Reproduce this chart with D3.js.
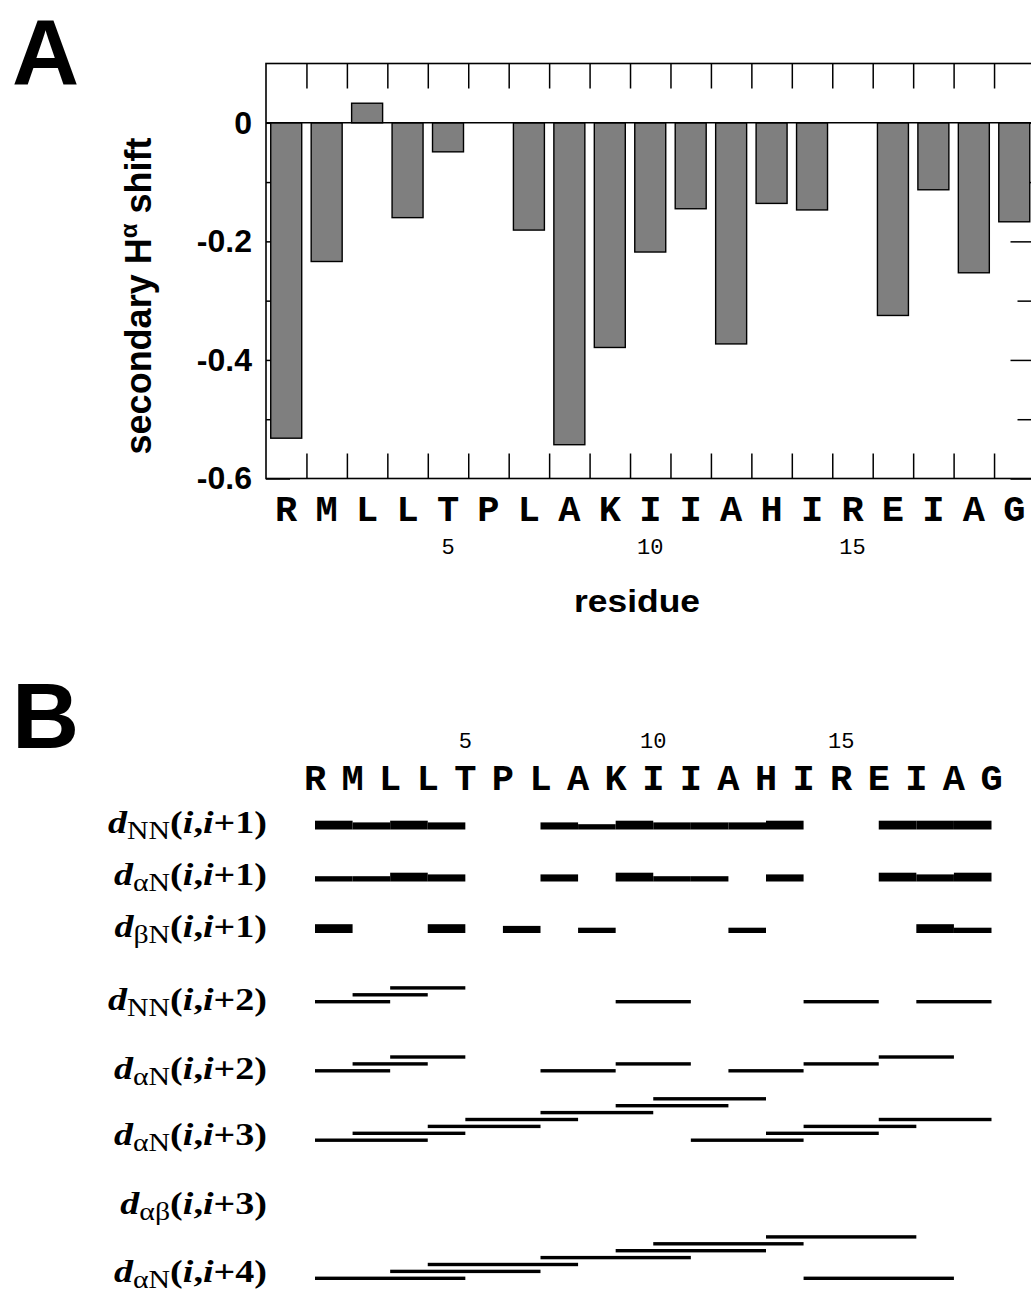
<!DOCTYPE html>
<html>
<head>
<meta charset="utf-8">
<script src="https://cdn.jsdelivr.net/npm/d3@7"></script>
<style>
  body { margin: 0; background: #fff; }
  svg { display: block; }
</style>
</head>
<body>
<div id="chart"></div>
<script>
// peptide sequence and numbering
var residues = ['R','M','L','L','T','P','L','A','K','I','I','A','H','I','R','E','I','A','G'];
var numberLabels = [5, 10, 15];

// secondary H-alpha shift (ppm), null = no bar
var haShift = [-0.532, -0.234, 0.033, -0.160, -0.049, null, -0.181, -0.543, -0.379, -0.218,
               -0.145, -0.373, -0.136, -0.147, null, -0.325, -0.113, -0.253, -0.167];
var yMajor = [0, -0.2, -0.4, -0.6];
var yMinor = [-0.1, -0.3, -0.5];

// sequential NOEs: [residue i, intensity] for i -> i+1
var dNN1 = [[1,'s'],[2,'m'],[3,'s'],[4,'m'],[7,'m'],[8,'w'],[9,'s'],[10,'m'],[11,'m'],[12,'m'],[13,'s'],[16,'s'],[17,'s'],[18,'s']];
var daN1 = [[1,'w'],[2,'w'],[3,'s'],[4,'m'],[7,'m'],[9,'s'],[10,'w'],[11,'w'],[13,'m'],[16,'s'],[17,'m'],[18,'s']];
var dbN1 = [[1,'s'],[4,'s'],[6,'m'],[8,'w'],[12,'w'],[17,'s'],[18,'w']];

// medium range NOEs: [i, j]
var dNN2 = [[1,3],[2,4],[3,5],[9,11],[14,16],[17,19]];
var daN2 = [[1,3],[2,4],[3,5],[7,9],[9,11],[12,14],[14,16],[16,18]];
var daN3 = [[1,4],[2,5],[4,7],[5,8],[7,10],[9,12],[10,13],[11,14],[13,16],[14,17],[16,19]];
var dab3 = [];
var daN4 = [[1,5],[3,7],[4,8],[7,11],[9,13],[10,14],[13,17],[14,18]];

var rowSubs = ['NN', 'αN', 'βN', 'NN', 'αN', 'αN', 'αβ', 'αN'];
var rowSteps = [1, 1, 1, 2, 2, 3, 3, 4];

var W = 1031, H = 1294;
var sans = '"Liberation Sans", Arial, sans-serif';
var mono = '"Liberation Mono", "Courier New", monospace';
var serif = '"Liberation Serif", "Times New Roman", serif';

var svg = d3.select('#chart').append('svg')
  .attr('width', W).attr('height', H)
  .attr('viewBox', `0 0 ${W} ${H}`);

// ---------- panel A ----------
var plot = { left: 266, right: 1034.5, top: 63.5, bottom: 478.5 };
var idx = d3.range(1, residues.length + 1);

var x = d3.scaleBand().domain(idx).range([plot.left, plot.right]);
var xEdge = d3.scaleLinear().domain([0, residues.length]).range([plot.left, plot.right]);
var y = d3.scaleLinear().domain([-0.6, 0.1]).range([plot.bottom, plot.top]);

svg.append('text')
  .attr('x', 12).attr('y', 84)
  .style('font-family', sans).style('font-weight', 'bold').style('font-size', '93px')
  .text('A');

var gA = svg.append('g');

// band ticks top and bottom
gA.append('g')
  .attr('transform', `translate(0,${plot.top})`)
  .call(d3.axisBottom(xEdge).tickValues(d3.range(1, residues.length)).tickSize(25).tickFormat(''));
gA.append('g')
  .attr('transform', `translate(0,${plot.bottom})`)
  .call(d3.axisTop(xEdge).tickValues(d3.range(1, residues.length)).tickSize(25).tickFormat(''));

// y ticks both sides
gA.append('g').attr('transform', `translate(${plot.left},0)`)
  .call(d3.axisRight(y).tickValues(yMajor).tickSize(24).tickFormat(''));
gA.append('g').attr('transform', `translate(${plot.left},0)`)
  .call(d3.axisRight(y).tickValues(yMinor).tickSize(17).tickFormat(''));
gA.append('g').attr('transform', `translate(${plot.right},0)`)
  .call(d3.axisLeft(y).tickValues(yMajor).tickSize(24).tickFormat(''));
gA.append('g').attr('transform', `translate(${plot.right},0)`)
  .call(d3.axisLeft(y).tickValues(yMinor).tickSize(17).tickFormat(''));

// tick labels
gA.append('g').attr('transform', `translate(${plot.left},0)`)
  .call(d3.axisLeft(y).tickValues(yMajor).tickSize(0).tickPadding(14)
    .tickFormat(d => d === 0 ? '0' : d.toFixed(1).replace('\u2212', '-')))
  .call(g => g.selectAll('text')
    .style('font-family', sans).style('font-weight', 'bold').style('font-size', '32px')
    .attr('fill', '#000'));

gA.selectAll('.domain').remove();
gA.selectAll('.tick line').attr('stroke', '#000').attr('stroke-width', 1.5);

// bars
var barW = x.bandwidth() * 0.766;
gA.append('g').selectAll('rect')
  .data(haShift.map((v, i) => ({ i: i + 1, v: v })).filter(d => d.v !== null))
  .join('rect')
    .attr('x', d => x(d.i) + (x.bandwidth() - barW) / 2)
    .attr('width', barW)
    .attr('y', d => y(Math.max(0, d.v)))
    .attr('height', d => Math.abs(y(d.v) - y(0)))
    .attr('fill', '#7f7f7f')
    .attr('stroke', '#000')
    .attr('stroke-width', 1.4);

// zero line + frame
gA.append('line')
  .attr('x1', plot.left).attr('x2', plot.right)
  .attr('y1', y(0)).attr('y2', y(0))
  .attr('stroke', '#000').attr('stroke-width', 1.6);
gA.append('rect')
  .attr('x', plot.left).attr('y', plot.top)
  .attr('width', plot.right - plot.left).attr('height', plot.bottom - plot.top)
  .attr('fill', 'none').attr('stroke', '#000').attr('stroke-width', 1.6);

// residue letters and numbers
gA.append('g').selectAll('text')
  .data(residues)
  .join('text')
    .attr('x', (d, i) => x(i + 1) + x.bandwidth() / 2)
    .attr('y', 521)
    .attr('text-anchor', 'middle')
    .style('font-family', mono).style('font-weight', 'bold').style('font-size', '37px')
    .text(d => d);
gA.append('g').selectAll('text')
  .data(numberLabels)
  .join('text')
    .attr('x', d => x(d) + x.bandwidth() / 2)
    .attr('y', 554)
    .attr('text-anchor', 'middle')
    .style('font-family', mono).style('font-size', '22px')
    .text(d => d);

// axis titles
gA.append('text')
  .attr('x', 637).attr('y', 612)
  .attr('text-anchor', 'middle')
  .attr('textLength', 126).attr('lengthAdjust', 'spacingAndGlyphs')
  .style('font-family', sans).style('font-weight', 'bold').style('font-size', '32px')
  .text('residue');

var yTitle = gA.append('text')
  .attr('transform', 'translate(151,296) rotate(-90)')
  .attr('text-anchor', 'middle')
  .style('font-family', sans).style('font-weight', 'bold').style('font-size', '36px');
yTitle.append('tspan').text('secondary H');
yTitle.append('tspan').attr('dy', -14).style('font-size', '24px').text('α');
yTitle.append('tspan').attr('dy', 14).text(' shift');

// ---------- panel B ----------
svg.append('text')
  .attr('x', 12).attr('y', 748)
  .style('font-family', sans).style('font-weight', 'bold').style('font-size', '93px')
  .text('B');

var gB = svg.append('g');
var xB = d3.scalePoint().domain(idx).range([315, 991.5]);

gB.append('g').selectAll('text')
  .data(residues)
  .join('text')
    .attr('x', (d, i) => xB(i + 1))
    .attr('y', 790)
    .attr('text-anchor', 'middle')
    .style('font-family', mono).style('font-weight', 'bold').style('font-size', '37px')
    .text(d => d);
gB.append('g').selectAll('text')
  .data(numberLabels)
  .join('text')
    .attr('x', d => xB(d))
    .attr('y', 748)
    .attr('text-anchor', 'middle')
    .style('font-family', mono).style('font-size', '22px')
    .text(d => d);

// row geometry
var seqBottoms = [829.5, 881.5, 933];
var medBase = [1001.7, 1070.8, 1140.2, 1209.2, 1278.3];
var labelBase = [833, 885, 937, 1010, 1079, 1145, 1214, 1282];
var thick = d3.scaleOrdinal().domain(['w', 'm', 's']).range([5.3, 7.1, 8.8]);
var levelStep = 6.9;
var thinW = 3.4;

// sequential rows
[dNN1, daN1, dbN1].forEach((rows, r) => {
  gB.append('g').selectAll('rect')
    .data(rows)
    .join('rect')
      .attr('x', d => xB(d[0]))
      .attr('width', d => xB(d[0] + 1) - xB(d[0]))
      .attr('y', d => seqBottoms[r] - thick(d[1]))
      .attr('height', d => thick(d[1]))
      .attr('fill', '#000');
});

// medium range rows, stacked in a staircase (wraps after 7 levels)
function stackLevels(pairs) {
  var out = [], lvl = 0, prevEnd = -Infinity;
  pairs.forEach(p => {
    lvl = p[0] <= prevEnd ? (lvl + 1) % 7 : 0;
    prevEnd = p[1];
    out.push({ i: p[0], j: p[1], lvl: lvl });
  });
  return out;
}
[dNN2, daN2, daN3, dab3, daN4].forEach((pairs, r) => {
  gB.append('g').selectAll('rect')
    .data(stackLevels(pairs))
    .join('rect')
      .attr('x', d => xB(d.i))
      .attr('width', d => xB(d.j) - xB(d.i))
      .attr('y', d => medBase[r] - d.lvl * levelStep - thinW / 2)
      .attr('height', thinW)
      .attr('fill', '#000');
});

// row labels: d_sub(i,i+n)
var labels = gB.append('g').selectAll('g')
  .data(rowSubs.map((s, k) => ({ sub: s, n: rowSteps[k], k: k })))
  .join('g');
labels.each(function (d) {
  var t = d3.select(this).append('text')
    .attr('text-anchor', 'end')
    .style('font-family', serif).style('font-weight', 'bold').style('font-size', '32px');
  t.append('tspan').style('font-style', 'italic').text('d');
  t.append('tspan').attr('dy', 6).style('font-weight', 'normal').style('font-size', '25px').text(d.sub);
  t.append('tspan').attr('dy', -6).text('(');
  t.append('tspan').style('font-style', 'italic').text('i');
  t.append('tspan').text(',');
  t.append('tspan').style('font-style', 'italic').text('i');
  t.append('tspan').text('+' + d.n + ')');
});
// stretch labels horizontally to match the figure's width
var w0 = labels.select('text').node().getComputedTextLength();
var sx = 159 / w0;
labels.attr('transform', d => `translate(267,${labelBase[d.k]}) scale(${sx},1)`);
</script>
</body>
</html>
